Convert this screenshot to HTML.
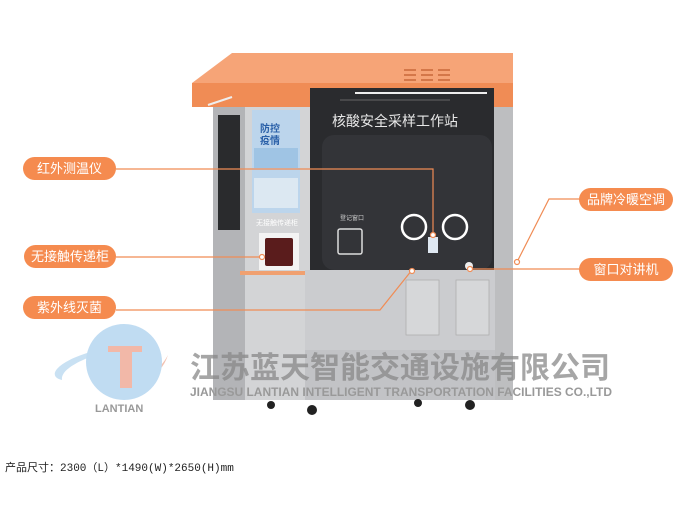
<!DOCTYPE html><html><head><meta charset="utf-8"><style>
body{margin:0;width:680px;height:520px;background:#fff;overflow:hidden;position:relative;font-family:"Liberation Sans","Noto Sans CJK SC",sans-serif}
.p{position:absolute;background:#f58b4f;color:#fff;border-radius:12px;font-size:13px;text-align:center;line-height:23px;height:23px}
</style></head><body>
<svg width="680" height="520" style="position:absolute;left:0;top:0">
<!-- body -->
<rect x="213" y="100" width="300" height="300" fill="#c9cacc"/>
<rect x="213" y="100" width="32" height="300" fill="#b3b4b7"/>
<rect x="218" y="115" width="22" height="115" fill="#2a2b2d"/>
<rect x="245" y="100" width="65" height="300" fill="#d3d4d6"/>
<rect x="493" y="100" width="20" height="300" fill="#bdbec0"/>
<!-- window -->
<rect x="310" y="88" width="184" height="182" fill="#2a2b2e"/>
<rect x="322" y="135" width="170" height="135" rx="12" fill="#333438"/>
<line x1="355" y1="93" x2="487" y2="93" stroke="#eee" stroke-width="2"/>
<line x1="340" y1="100" x2="450" y2="100" stroke="#666" stroke-width="1"/>
<!-- roof -->
<polygon points="232,53 513,53 513,83 192,83" fill="#f6a477"/>
<polygon points="192,83 513,83 513,107 494,107 494,88 310,88 310,107 192,107" fill="#f08c55"/>
<g stroke="#c8683a" stroke-width="1.5"><line x1="404" y1="70" x2="416" y2="70"/><line x1="404" y1="75" x2="416" y2="75"/><line x1="404" y1="80" x2="416" y2="80"/><line x1="421" y1="70" x2="433" y2="70"/><line x1="421" y1="75" x2="433" y2="75"/><line x1="421" y1="80" x2="433" y2="80"/><line x1="438" y1="70" x2="450" y2="70"/><line x1="438" y1="75" x2="450" y2="75"/><line x1="438" y1="80" x2="450" y2="80"/></g>
<line x1="208" y1="105" x2="232" y2="97" stroke="#eee" stroke-width="2"/>
<circle cx="414" cy="227" r="12" fill="none" stroke="#fff" stroke-width="2.5"/>
<circle cx="455" cy="227" r="12" fill="none" stroke="#fff" stroke-width="2.5"/>
<rect x="338" y="229" width="24" height="25" rx="2" fill="none" stroke="#ddd" stroke-width="1.5"/>
<rect x="428" y="237" width="10" height="16" fill="#dfe8f2"/>
<text x="340" y="220" font-size="6" fill="#ccc">登记窗口</text>
<text x="332" y="126" font-size="14" fill="#e8e8e8">核酸安全采样工作站</text>
<!-- screen -->
<rect x="252" y="110" width="48" height="103" fill="#bcd5ec"/>
<rect x="254" y="148" width="44" height="20" fill="#9fc4e4"/>
<rect x="254" y="178" width="44" height="30" fill="#dce8f2"/>
<text x="260" y="132" font-size="10" fill="#2a60a8" font-weight="bold">防控</text>
<text x="260" y="144" font-size="10" fill="#2a60a8" font-weight="bold">疫情</text>
<text x="256" y="225" font-size="7" fill="#fff">无接触传递柜</text>
<rect x="259" y="233" width="40" height="37" fill="#f3f3f3"/>
<rect x="265" y="238" width="28" height="28" rx="2" fill="#5a1c1c"/>
<rect x="240" y="271" width="65" height="4" fill="#f0a070"/>
<!-- lower cabinet -->
<rect x="305" y="270" width="190" height="80" fill="#cbcccf"/>
<rect x="406" y="280" width="33" height="55" fill="#d6d7d9" stroke="#aaa" stroke-width="0.7"/>
<rect x="456" y="280" width="33" height="55" fill="#d6d7d9" stroke="#aaa" stroke-width="0.7"/>
<rect x="305" y="350" width="190" height="50" fill="#c2c3c6"/>
<circle cx="469" cy="266" r="4" fill="#eee"/>
<g fill="#222"><circle cx="271" cy="405" r="4"/><circle cx="312" cy="410" r="5"/><circle cx="418" cy="403" r="4"/><circle cx="470" cy="405" r="5"/></g>
<!-- connectors -->
<g stroke="#f08c55" stroke-width="1.2" fill="none">
<polyline points="116,169 433,169 433,234"/>
<line x1="116" y1="257" x2="262" y2="257"/>
<polyline points="116,310 380,310 412,270"/>
<polyline points="579,199 549,199 517,262"/>
<line x1="579" y1="269" x2="470" y2="269"/>
</g>
<g fill="#fff" stroke="#f08c55" stroke-width="1.2"><circle cx="433" cy="235" r="2.5"/><circle cx="262" cy="257" r="2.5"/><circle cx="412" cy="271" r="2.5"/><circle cx="517" cy="262" r="2.5"/><circle cx="470" cy="269" r="2.5"/></g>
<!-- logo -->
<path d="M62,380 C40,375 70,350 130,345 C100,352 60,365 62,380 Z" fill="#c9e1f3"/>
<path d="M100,392 C140,390 160,370 168,355 C160,380 130,395 100,392 Z" fill="#f2c2b2"/>
<circle cx="124" cy="362" r="38" fill="#c0dcf2"/>
<rect x="108" y="346" width="34" height="6" fill="#f2b8a8"/>
<rect x="120" y="350" width="12" height="38" fill="#f2b8a8"/>
<text x="95" y="412" font-size="11" fill="#999" font-weight="bold">LANTIAN</text>
<text x="190" y="378" font-size="30" fill="#888" fill-opacity="0.75" font-weight="bold" textLength="420" lengthAdjust="spacingAndGlyphs">江苏蓝天智能交通设施有限公司</text>
<text x="190" y="396" font-size="12" fill="#999" font-weight="bold" textLength="422" lengthAdjust="spacingAndGlyphs">JIANGSU LANTIAN INTELLIGENT TRANSPORTATION FACILITIES CO.,LTD</text>
<text x="5" y="471" font-size="11" fill="#222" font-family="Liberation Mono,Noto Sans CJK SC,monospace">产品尺寸：2300（L）*1490(W)*2650(H)mm</text>
</svg>
<div class="p" style="left:23px;top:157px;width:93px">红外测温仪</div>
<div class="p" style="left:24px;top:245px;width:92px">无接触传递柜</div>
<div class="p" style="left:23px;top:296px;width:93px">紫外线灭菌</div>
<div class="p" style="left:579px;top:188px;width:94px">品牌冷暖空调</div>
<div class="p" style="left:579px;top:258px;width:94px">窗口对讲机</div>
</body></html>
